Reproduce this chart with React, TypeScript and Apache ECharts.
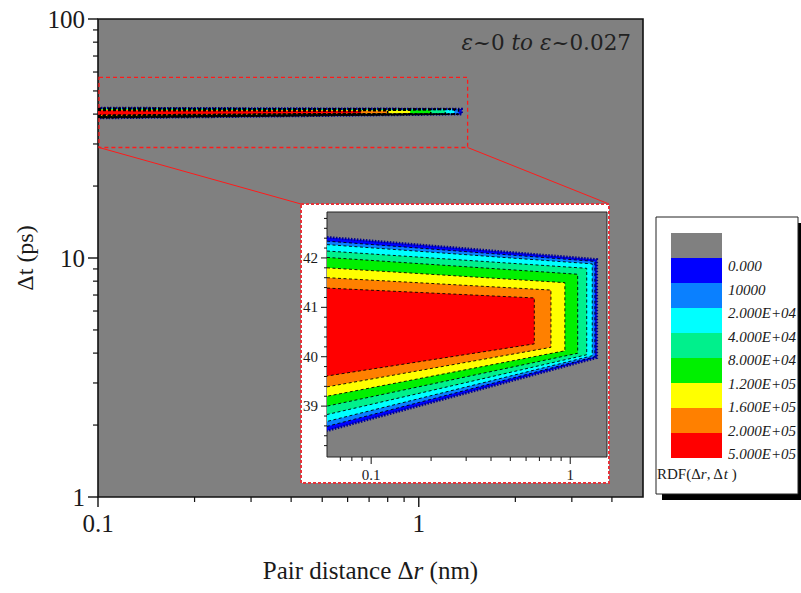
import React, { useEffect, useRef } from 'react';
import * as echarts from 'echarts';

// ---- contour legend: level labels and band colours (gray = below the first level)
const levelLabels = ['0.000', '10000', '2.000E+04', '4.000E+04', '8.000E+04', '1.200E+05', '1.600E+05', '2.000E+05', '5.000E+05'];
const levelColors = ['#808080', '#0000ff', '#0a80ff', '#00ffff', '#00f08c', '#00f000', '#ffff00', '#ff8000', '#ff0000'];

// ---- regions where RDF(Δr, Δt) >= level, one trapezoid per level (Δr in nm, Δt in ps)
const regionLeft = 0.06;
const regionRight = [1.36, 1.33, 1.29, 1.21, 1.09, 0.94, 0.8, 0.66];
const regionTopLeft = [42.42, 42.34, 42.27, 42.14, 42.01, 41.8, 41.6, 41.39];
const regionTopRight = [41.97, 41.93, 41.88, 41.79, 41.67, 41.5, 41.35, 41.19];
const regionBottomRight = [39.98, 40.0, 40.02, 40.04, 40.07, 40.12, 40.19, 40.26];
const regionBottomLeft = [38.5, 38.59, 38.69, 38.83, 39.0, 39.2, 39.39, 39.61];

// ---- axes
const mainXRange = [0.1, 5];
const mainYRange = [1, 100];
const mainXLabels = [0.1, 1];
const mainYLabels = [1, 10, 100];
const mainXMajor = [0.1, 1];
const mainXMinor = [0.2, 0.3, 0.4, 0.5, 0.6, 0.7, 0.8, 0.9, 2, 3, 4];
const mainYMajor = [1, 10, 100];
const mainYMinor = [2, 3, 4, 5, 6, 7, 8, 9, 20, 30, 40, 50, 60, 70, 80, 90];

const insetXRange = [0.06, 1.53];
const insetYRange = [37.97, 42.93];
const insetXLabels = [0.1, 1];
const insetYLabels = [39, 40, 41, 42];
const insetXMajor = [0.1, 1];
const insetXMinor = [0.07, 0.08, 0.09, 0.2, 0.3, 0.4, 0.5, 0.6, 0.7, 0.8, 0.9];
const insetYMajor = [39, 40, 41, 42];
const insetYMinor = [
  38.2, 38.4, 38.6, 38.8, 39.2, 39.4, 39.6, 39.8, 40.2, 40.4, 40.6, 40.8,
  41.2, 41.4, 41.6, 41.8, 42.2, 42.4, 42.6, 42.8,
];

// ---- magnified window on the main plot
const zoomWindowX = [0.1, 1.42];
const zoomWindowY = [29, 57];

const SERIF = 'Liberation Serif';
const MATH = 'DejaVu Serif';
const INK = '#1a1a1a';
const INSET_FRAME = { x: 301, y: 204, w: 308, h: 279 };

// label only the listed tick values, set in the serif face
const tickText = (list: number[]) => (v: number) =>
  list.some((t) => Math.abs(v - t) < 1e-6 * Math.max(1, Math.abs(t))) ? `{s|${+v.toPrecision(6)}}` : '';

function tickSeries(values: number[], dir: 'x' | 'y', axisIndex: number, anchor: number, len: number, width: number, z: number) {
  return {
    type: 'custom',
    xAxisIndex: axisIndex,
    yAxisIndex: axisIndex,
    silent: true,
    clip: false,
    z,
    data: values.map((v) => (dir === 'x' ? [v, anchor] : [anchor, v])),
    renderItem: (_params: any, api: any) => {
      const p = api.coord([api.value(0), api.value(1)]);
      const shape =
        dir === 'x'
          ? { x1: p[0], y1: p[1], x2: p[0], y2: p[1] + len }
          : { x1: p[0], y1: p[1], x2: p[0] - len, y2: p[1] };
      return { type: 'line', shape, style: { stroke: '#111', lineWidth: width } };
    },
  };
}

function contourSeries(axisIndex: number, main: boolean, z: number) {
  return {
    type: 'custom',
    xAxisIndex: axisIndex,
    yAxisIndex: axisIndex,
    silent: true,
    clip: true,
    z,
    data: regionRight.map((r, i) => [r, regionTopRight[i]]),
    renderItem: (params: any, api: any) => {
      const i = params.dataIndex;
      const cs = params.coordSys;
      const rect = { x: cs.x, y: cs.y, width: cs.width, height: cs.height };
      const bl = api.coord([regionLeft, regionBottomLeft[i]]);
      const tl = api.coord([regionLeft, regionTopLeft[i]]);
      const tr = api.coord([regionRight[i], regionTopRight[i]]);
      const br = api.coord([regionRight[i], regionBottomRight[i]]);
      const fillPts = echarts.graphic.clipPointsByRect([bl, tl, tr, br], rect);
      const edgePts = echarts.graphic.clipPointsByRect([tl, tr, br, bl], rect);
      const outer = i === 0;
      const lineStyle = outer
        ? { stroke: '#000090', lineWidth: 2.6, lineDash: [1.5, 1.5] }
        : { stroke: '#000', lineWidth: main ? 1.5 : 0.9, lineDash: main ? [3, 2] : [3, 2.5] };
      return {
        type: 'group',
        children: [
          { type: 'polygon', z2: i, shape: { points: fillPts }, style: { fill: levelColors[i + 1] } },
          { type: 'polyline', z2: 100 + i, shape: { points: edgePts }, style: { fill: null, ...lineStyle } },
        ],
      };
    },
  };
}

function buildOption() {
  const big = { s: { fontFamily: SERIF, fontSize: 25, color: INK } };
  const small = { s: { fontFamily: SERIF, fontSize: 15, color: INK } };
  const labelBase = { showMinLabel: true, showMaxLabel: true };
  return {
    animation: false,
    backgroundColor: '#ffffff',
    grid: [
      { left: 98, top: 19, width: 545, height: 478, show: true, backgroundColor: '#808080', borderColor: '#111', borderWidth: 1.6, z: 0 },
      { left: 327, top: 212, width: 280, height: 245, show: true, backgroundColor: '#808080', borderColor: '#222', borderWidth: 1, z: 10 },
    ],
    xAxis: [
      {
        gridIndex: 0, type: 'log', logBase: 10, min: mainXRange[0], max: mainXRange[1],
        axisLine: { show: false }, axisTick: { show: false }, splitLine: { show: false },
        axisLabel: { ...labelBase, margin: 14, rich: big, formatter: tickText(mainXLabels) },
        name: '{n|Pair distance Δ}{i|r}{n| (nm)}', nameLocation: 'middle', nameGap: 61,
        nameTextStyle: {
          rich: {
            n: { fontFamily: SERIF, fontSize: 25, color: INK },
            i: { fontFamily: SERIF, fontSize: 25, fontStyle: 'italic', color: INK },
          },
        },
      },
      {
        gridIndex: 1, type: 'log', logBase: 10, min: insetXRange[0], max: insetXRange[1], z: 11,
        axisLine: { show: false }, axisTick: { show: false }, splitLine: { show: false },
        axisLabel: { ...labelBase, margin: 10, rich: small, formatter: tickText(insetXLabels) },
      },
    ],
    yAxis: [
      {
        gridIndex: 0, type: 'log', logBase: 10, min: mainYRange[0], max: mainYRange[1],
        axisLine: { show: false }, axisTick: { show: false }, splitLine: { show: false },
        axisLabel: { ...labelBase, margin: 13, rich: big, formatter: tickText(mainYLabels) },
        name: '{n|Δt (ps)}', nameLocation: 'middle', nameGap: 40,
        nameTextStyle: { rich: { n: { fontFamily: SERIF, fontSize: 24, color: INK } } },
      },
      {
        gridIndex: 1, type: 'value', min: insetYRange[0], max: insetYRange[1], z: 11,
        axisLine: { show: false }, axisTick: { show: false }, splitLine: { show: false },
        axisLabel: { ...labelBase, margin: 9, rich: small, formatter: tickText(insetYLabels) },
      },
    ],
    graphic: {
      elements: [
        // inset frame
        {
          type: 'rect', z: 5,
          shape: { x: INSET_FRAME.x, y: INSET_FRAME.y, width: INSET_FRAME.w, height: INSET_FRAME.h },
          style: { fill: '#ffffff', stroke: '#e5333a', lineWidth: 2, lineDash: [3, 2] },
        },
        // annotation inside the main plot
        {
          type: 'text', z: 6, x: 631, y: 42,
          style: {
            text: '{e|ε}{n|~0 }{e|to }{e|ε}{n|~0.027}',
            align: 'right', verticalAlign: 'middle',
            rich: {
              n: { fontFamily: MATH, fontSize: 21.5, fill: '#222' },
              e: { fontFamily: MATH, fontSize: 21.5, fontStyle: 'italic', fill: '#222' },
            },
          },
        },
        // colour scale box
        { type: 'rect', z: 5, shape: { x: 662, y: 223, width: 142, height: 277 }, style: { fill: '#000' } },
        { type: 'rect', z: 5, shape: { x: 656, y: 217, width: 142, height: 277 }, style: { fill: '#fff', stroke: '#222', lineWidth: 1 } },
        ...levelColors.map((c, i) => ({
          type: 'rect', z: 6,
          shape: { x: 671, y: 233 + 25 * i, width: 51, height: 25 },
          style: { fill: c },
        })),
        ...levelLabels.map((t, i) => ({
          type: 'text', z: 6, x: 728, y: 266 + 23.5 * i,
          style: {
            text: `{i|${t}}`,
            verticalAlign: 'middle',
            rich: { i: { fontFamily: SERIF, fontSize: 15, fontStyle: 'italic', fill: INK } },
          },
        })),
        {
          type: 'text', z: 6, x: 657, y: 474,
          style: {
            text: '{n|RDF(Δ}{i|r}{n|, Δ}{i|t}{n| )}',
            verticalAlign: 'middle',
            rich: {
              n: { fontFamily: SERIF, fontSize: 15, fill: INK },
              i: { fontFamily: SERIF, fontSize: 15, fontStyle: 'italic', fill: INK },
            },
          },
        },
      ],
    },
    series: [
      contourSeries(0, true, 2),
      {
        type: 'custom', xAxisIndex: 0, yAxisIndex: 0, silent: true, clip: false, z: 4,
        data: [[zoomWindowX[1], zoomWindowY[0]]],
        renderItem: (_params: any, api: any) => {
          const a = api.coord([zoomWindowX[0], zoomWindowY[1]]);
          const b = api.coord([zoomWindowX[1], zoomWindowY[0]]);
          return {
            type: 'group',
            children: [
              {
                type: 'rect',
                shape: { x: a[0] + 1, y: a[1], width: b[0] - a[0] - 1, height: b[1] - a[1] },
                style: { fill: null, stroke: '#ff1a1a', lineWidth: 1.3, lineDash: [4, 3] },
              },
              {
                type: 'line',
                shape: { x1: a[0] + 1, y1: b[1], x2: INSET_FRAME.x, y2: INSET_FRAME.y },
                style: { stroke: '#ff1a1a', lineWidth: 1 },
              },
              {
                type: 'line',
                shape: { x1: b[0], y1: b[1], x2: INSET_FRAME.x + INSET_FRAME.w, y2: INSET_FRAME.y },
                style: { stroke: '#ff1a1a', lineWidth: 1 },
              },
            ],
          };
        },
      },
      tickSeries(mainXMajor, 'x', 0, mainYRange[0], 10, 1.4, 3),
      tickSeries(mainXMinor, 'x', 0, mainYRange[0], 5, 1.2, 3),
      tickSeries(mainYMajor, 'y', 0, mainXRange[0], 10, 1.4, 3),
      tickSeries(mainYMinor, 'y', 0, mainXRange[0], 5, 1.2, 3),
      contourSeries(1, false, 12),
      tickSeries(insetXMajor, 'x', 1, insetYRange[0], 7, 1, 13),
      tickSeries(insetXMinor, 'x', 1, insetYRange[0], 4, 1, 13),
      tickSeries(insetYMajor, 'y', 1, insetXRange[0], 6, 1, 13),
      tickSeries(insetYMinor, 'y', 1, insetXRange[0], 3, 1, 13),
    ],
  };
}

export default function App() {
  const ref = useRef<HTMLDivElement>(null);
  useEffect(() => {
    if (!ref.current) return;
    const chart = echarts.init(ref.current, null, { renderer: 'svg' });
    chart.setOption(buildOption() as any);
    return () => chart.dispose();
  }, []);
  return (
    <div
      ref={ref}
      style={{ position: 'fixed', left: 0, top: 0, width: 801, height: 593, background: '#ffffff' }}
    />
  );
}
